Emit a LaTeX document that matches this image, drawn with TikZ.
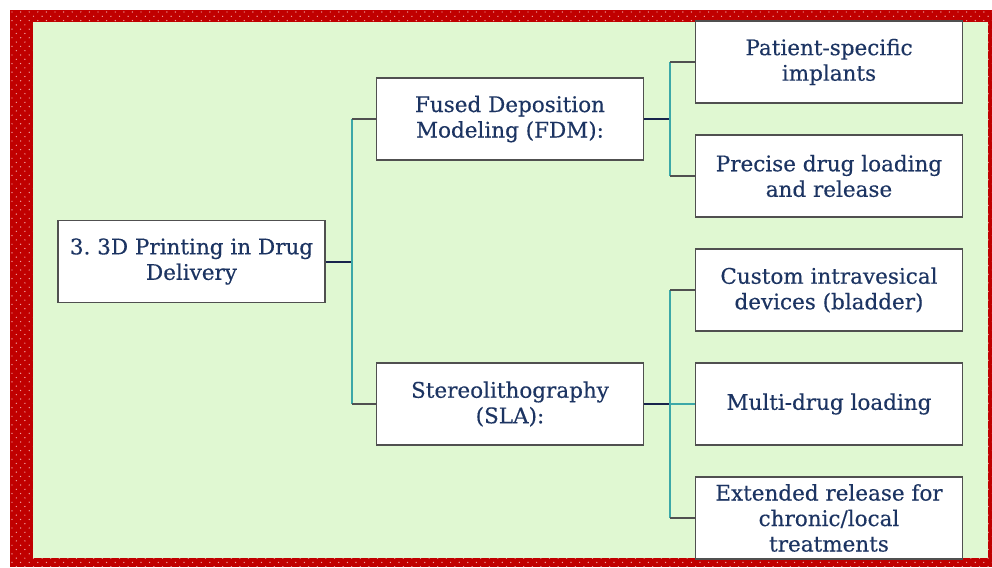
\documentclass[tikz,border=0pt]{standalone}
\usepackage{fontspec}
\setmainfont[FakeBold=0.3]{DejaVu Serif}
\newfontfamily\boxfont[FakeBold=0.35]{DejaVu Serif}
\frenchspacing
\definecolor{framered}{RGB}{192,0,0}
\definecolor{bggreen}{RGB}{224,248,210}
\definecolor{txtblue}{RGB}{28,52,98}
\definecolor{navyline}{RGB}{24,36,76}
\definecolor{tealline}{RGB}{60,168,168}
\definecolor{boxgray}{RGB}{80,80,80}
\definecolor{dotpink}{RGB}{240,165,165}
\begin{document}
\begin{tikzpicture}[x=1pt,y=-1pt,
  box/.style={draw=boxgray, line width=1.5pt, fill=white, minimum width=267pt,
    minimum height=82pt, align=center, text=txtblue, inner sep=0pt,
    font=\boxfont\fontsize{21.5}{25.5}\selectfont},
  navyc/.style={draw=navyline, line width=2pt},
  tealc/.style={draw=tealline, line width=1.8pt},
  grayc/.style={draw=boxgray, line width=1.5pt}]
\useasboundingbox (0,0) rectangle (992,567);
\fill[white] (0,0) rectangle (992,567);
\fill[framered] (10,10) rectangle (992,567);
\foreach \j in {0,...,129}{
  \pgfmathtruncatemacro{\odd}{mod(\j,2)}
  \ifnum\j<3 \def\ilist{0,...,114}\else\ifnum\j>126 \def\ilist{0,...,114}\else\def\ilist{0,1,2,113,114}\fi\fi
  \foreach \i in \ilist {
    \fill[dotpink] ({12+8.6*\i+4.3*\odd},{12+4.3*\j}) circle[radius=0.7pt];
  }
}
\fill[bggreen] (33,22) rectangle (988,558);
% nodes
\node[box] (root) at (191.5,261.5) {3. 3D Printing in Drug\\Delivery};
\node[box] (fdm) at (510,119) {Fused Deposition\\Modeling (FDM):};
\node[box] (sla) at (510,404) {Stereolithography\\(SLA):};
\node[box] (l1) at (829,62) {Patient-specific\\implants};
\node[box] (l2) at (829,176) {Precise drug loading\\and release};
\node[box] (l3) at (829,290) {Custom intravesical\\devices (bladder)};
\node[box] (l4) at (829,404) {Multi-drug loading};
\node[box] (l5) at (829,518) {Extended release for\\chronic/local\\treatments};
% connectors
\draw[navyc] (root.east) -- ++(26,0) coordinate (j1);
\draw[tealc] (j1 |- fdm.west) -- (j1 |- sla.west);
\draw[grayc] (j1 |- fdm.west) -- (fdm.west);
\draw[grayc] (j1 |- sla.west) -- (sla.west);
\draw[navyc] (fdm.east) -- ++(26,0) coordinate (j2);
\draw[tealc] (j2 |- l1.west) -- (j2 |- l2.west);
\draw[grayc] (j2 |- l1.west) -- (l1.west);
\draw[grayc] (j2 |- l2.west) -- (l2.west);
\draw[navyc] (sla.east) -- ++(26,0) coordinate (j3);
\draw[tealc] (j3 |- l3.west) -- (j3 |- l5.west);
\draw[grayc] (j3 |- l3.west) -- (l3.west);
\draw[tealc] (j3) -- (l4.west);
\draw[grayc] (j3 |- l5.west) -- (l5.west);
\end{tikzpicture}
\end{document}
